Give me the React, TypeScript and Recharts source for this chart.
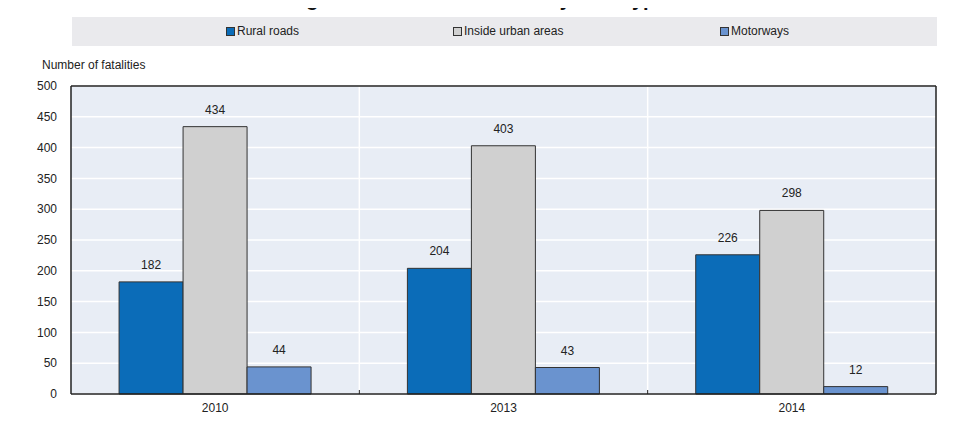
import React from 'react';
import { BarChart, Bar, XAxis, YAxis, CartesianGrid, LabelList } from 'recharts';

const years = ['2010', '2013', '2014'];
const ruralRoads = [182, 204, 226];
const insideUrbanAreas = [434, 403, 298];
const motorways = [44, 43, 12];
const yTicks = [0, 50, 100, 150, 200, 250, 300, 350, 400, 450, 500];

const seriesDefs = [
  { key: 'rural', name: 'Rural roads', color: '#0b6cb8', values: ruralRoads, legendX: 226 },
  { key: 'urban', name: 'Inside urban areas', color: '#d0d0d0', values: insideUrbanAreas, legendX: 453 },
  { key: 'motorways', name: 'Motorways', color: '#6a93cf', values: motorways, legendX: 720 },
];

const data = years.map((year, i) => {
  const row: Record<string, string | number> = { year };
  seriesDefs.forEach((s) => {
    row[s.key] = s.values[i];
  });
  return row;
});

const FONT = '"Liberation Sans", Arial, sans-serif';
const TEXT = '#222';
const AXIS = '#222';
const X_TICK_SIZE = 6;
const X_TICK_MARGIN = 3;

function applyScale(scale: any, v: any): number | null {
  try {
    if (!scale) return null;
    if (typeof scale === 'function') return scale(v);
    if (typeof scale.map === 'function') return scale.map(v);
    if (typeof scale.apply === 'function') return scale.apply(v);
  } catch (e) {
    return null;
  }
  return null;
}

function getBandwidth(scale: any): number | null {
  try {
    if (scale && typeof scale.bandwidth === 'function') return scale.bandwidth();
  } catch (e) {
    return null;
  }
  return null;
}

function CategoryTick(props: any) {
  const { x, y, payload, index } = props;
  const axisY = y - X_TICK_SIZE - X_TICK_MARGIN;
  const half = payload && typeof payload.offset === 'number' && payload.offset > 0 ? payload.offset : null;
  return (
    <g>
      {index > 0 && half != null ? (
        <line x1={x - half} x2={x - half} y1={axisY} y2={axisY - 4} stroke={AXIS} strokeWidth={1} />
      ) : null}
      <text x={x} y={y} dy="0.71em" textAnchor="middle" fill={TEXT} fontSize={12} fontFamily={FONT}>
        {payload.value}
      </text>
    </g>
  );
}

function verticalBoundaries(args: any) {
  const pts: number[] = [];
  try {
    const xAxis = args && args.xAxis;
    const scale = xAxis && xAxis.scale;
    for (let i = 1; i < years.length; i++) {
      const v = applyScale(scale, years[i]);
      if (typeof v === 'number' && !isNaN(v)) pts.push(v);
    }
    if (pts.length === 0 && xAxis && Array.isArray(xAxis.ticks)) {
      const bw = getBandwidth(scale);
      xAxis.ticks.forEach((t: any, i: number) => {
        if (i > 0 && t && typeof t.coordinate === 'number') {
          const off = typeof t.offset === 'number' ? t.offset : bw != null ? bw / 2 : 0;
          pts.push(t.coordinate - off);
        }
      });
    }
  } catch (e) {
    return [];
  }
  return pts;
}

export default function App() {
  return (
    <div style={{ position: 'relative', width: 961, height: 430, marginTop: -8, marginLeft: -8, fontFamily: FONT }}>
      <div
        style={{
          position: 'absolute',
          top: -11,
          left: -3,
          width: 961,
          textAlign: 'center',
          fontWeight: 'bold',
          fontSize: 20,
          lineHeight: '20px',
          color: '#111',
          whiteSpace: 'nowrap',
        }}
      >
        Figure 26.3. Road fatalities by road type
      </div>
      <div style={{ position: 'absolute', left: 72, top: 17, width: 865, height: 29, background: '#eaeaed' }} />
      {seriesDefs.map((s) => (
        <div
          key={s.key}
          style={{ position: 'absolute', left: s.legendX, top: 24, height: 14, display: 'flex', alignItems: 'center', fontSize: 12, color: TEXT, whiteSpace: 'nowrap' }}
        >
          <span style={{ display: 'inline-block', width: 7, height: 7, background: s.color, border: '1px solid #333', marginRight: 2 }} />
          <span>{s.name}</span>
        </div>
      ))}
      <div style={{ position: 'absolute', left: 42, top: 58, fontSize: 12, color: TEXT, whiteSpace: 'nowrap', lineHeight: '14px' }}>
        Number of fatalities
      </div>
      <div style={{ position: 'absolute', left: 0, top: 0 }}>
        <BarChart
          width={961}
          height={430}
          data={data}
          margin={{ top: 85, right: 24, bottom: 16, left: 0 }}
          barCategoryGap="16.67%"
          barGap={0}
        >
          <CartesianGrid
            xAxisId="main"
            yAxisId="left"
            fill="#e8edf5"
            stroke="#ffffff"
            strokeWidth={1.5}
            verticalCoordinatesGenerator={verticalBoundaries}
          />
          <XAxis
            xAxisId="main"
            dataKey="year"
            height={20}
            tickLine={false}
            axisLine={{ stroke: AXIS, strokeWidth: 1.5 }}
            tick={<CategoryTick />}
            tickSize={X_TICK_SIZE}
            tickMargin={X_TICK_MARGIN}
          />
          <XAxis xAxisId="top" orientation="top" height={1} tick={false} tickLine={false} axisLine={{ stroke: AXIS, strokeWidth: 1.5 }} />
          <YAxis
            yAxisId="left"
            width={71}
            domain={[0, 500]}
            ticks={yTicks}
            interval={0}
            tickLine={false}
            axisLine={{ stroke: AXIS, strokeWidth: 1.5 }}
            tick={{ fill: TEXT, fontSize: 12, fontFamily: FONT }}
            tickSize={6}
            tickMargin={8}
          />
          <YAxis yAxisId="right" orientation="right" width={1} domain={[0, 500]} tick={false} tickLine={false} axisLine={{ stroke: AXIS, strokeWidth: 1.5 }} />
          {seriesDefs.map((s) => (
            <Bar
              key={s.key}
              xAxisId="main"
              yAxisId="left"
              dataKey={s.key}
              name={s.name}
              fill={s.color}
              stroke="#333"
              strokeWidth={1}
              isAnimationActive={false}
            >
              <LabelList dataKey={s.key} position="top" offset={13} fill={TEXT} fontSize={12} fontFamily={FONT} />
            </Bar>
          ))}
        </BarChart>
      </div>
    </div>
  );
}
